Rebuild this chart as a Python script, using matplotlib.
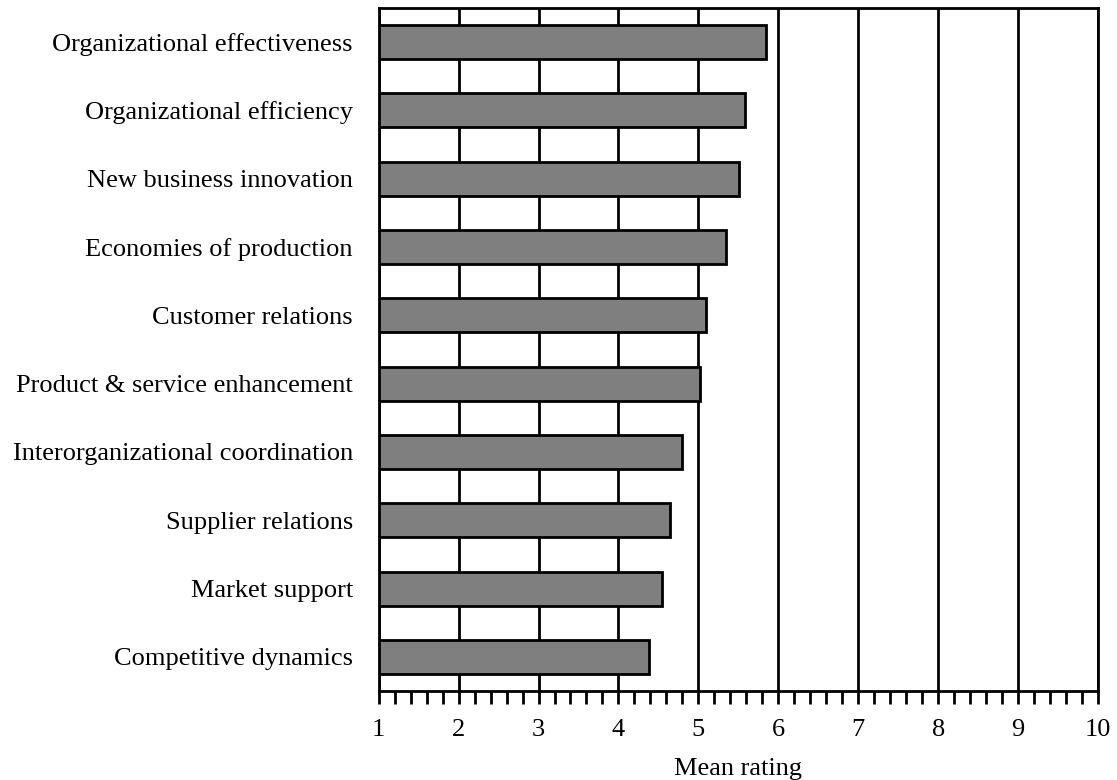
import matplotlib.pyplot as plt
import numpy as np
from matplotlib.ticker import MultipleLocator

plt.rcParams['font.family'] = ['Liberation Serif', 'DejaVu Serif']

categories = ['Organizational effectiveness', 'Organizational efficiency',
              'New business innovation', 'Economies of production',
              'Customer relations', 'Product & service enhancement',
              'Interorganizational coordination', 'Supplier relations',
              'Market support', 'Competitive dynamics']
mean_rating = [5.85, 5.58, 5.51, 5.34, 5.09, 5.02, 4.79, 4.64, 4.54, 4.38]

fig = plt.figure(figsize=(11.17, 7.8), dpi=100)
ax = fig.add_axes([0.339, 0.114, 0.644, 0.876])

ypos = np.arange(len(categories))
ax.barh(ypos, np.array(mean_rating) - 1, left=1, height=0.5,
        color='#7f7f7f', edgecolor='black', linewidth=2, zorder=3)

ax.set_xlim(1, 10)
ax.set_ylim(len(categories) - 0.5, -0.5)
ax.set_yticks(ypos)
ax.set_yticklabels(categories, fontsize=19)
ax.tick_params(axis='y', length=0, pad=18.5)

ax.xaxis.set_major_locator(MultipleLocator(1))
ax.xaxis.set_minor_locator(MultipleLocator(0.2))
ax.tick_params(axis='x', which='both', direction='out', length=9, width=2,
               labelsize=19, pad=11)
ax.grid(axis='x', which='major', color='black', linewidth=2, zorder=1)

for s in ax.spines.values():
    s.set_linewidth(2)

ax.set_xlabel('Mean rating', fontsize=19, labelpad=12)

fig.savefig('out.png', dpi=100)
